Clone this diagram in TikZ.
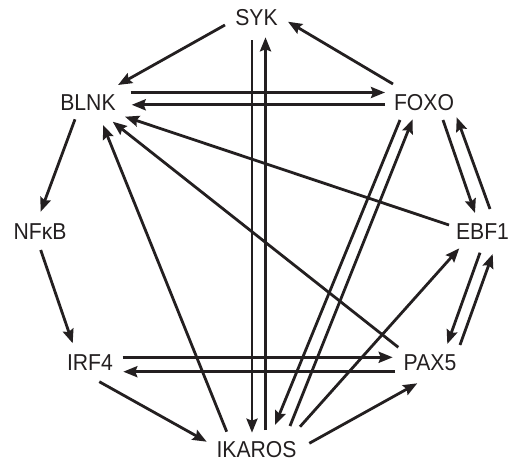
\documentclass[tikz,border=0pt]{standalone}
\usepackage{fontspec}
\setmainfont{Liberation Sans}[FakeStretch=0.92]
\usetikzlibrary{arrows.meta}
\definecolor{ink}{HTML}{231F20}
\begin{document}
\begin{tikzpicture}[x=1pt,y=-1pt,
  lbl/.style={inner sep=0pt,text=ink,font=\fontsize{23}{23}\selectfont},
  conn/.style={draw=ink,line width=2.8pt,-{Stealth[length=14pt,width=11pt,inset=2pt]}}]
\useasboundingbox (0,0) rectangle (509,463);
\node[lbl] (SYK) at (256.5,17.5) {SYK};
\node[lbl] (BLNK) at (88,103) {BLNK};
\node[lbl] (FOXO) at (424,103) {FOXO};
\node[lbl] (NFKB) at (40,232) {NFκB};
\node[lbl] (EBF1) at (482.5,231.5) {EBF1};
\node[lbl] (IRF4) at (90,363) {IRF4};
\node[lbl] (PAX5) at (430,363) {PAX5};
\node[lbl] (IKAROS) at (256.5,450) {IKAROS};
% connectors
\draw[conn] ([shift={(-31.5,7.5)}]SYK.center) -- ([shift={(30,-18)}]BLNK.center);
\draw[conn] ([shift={(-31,-19)}]FOXO.center) -- ([shift={(31.5,4.2)}]SYK.center);
\draw[conn] ([shift={(42.7,-10.5)}]BLNK.center) -- ([shift={(-39,-10.5)}]FOXO.center);
\draw[conn] ([shift={(-39,1.8)}]FOXO.center) -- ([shift={(43.7,1.8)}]BLNK.center);
\draw[conn] ([shift={(-33.5,-6.5)}]EBF1.center) -- ([shift={(37,13.7)}]BLNK.center);
\draw[conn] ([shift={(-31.7,-15.7)}]PAX5.center) -- ([shift={(24.7,18.7)}]BLNK.center);
\draw[conn] ([shift={(-29.8,-18.3)}]IKAROS.center) -- ([shift={(15,22)}]BLNK.center);
\draw[conn] ([shift={(-13,16.3)}]BLNK.center) -- ([shift={(0.7,-20.3)}]NFKB.center);
\draw[conn] ([shift={(0.7,18)}]NFKB.center) -- ([shift={(-17.3,-19.7)}]IRF4.center);
\draw[conn] ([shift={(32.7,-5.7)}]IRF4.center) -- ([shift={(-37.3,-5.7)}]PAX5.center);
\draw[conn] ([shift={(-35,8.7)}]PAX5.center) -- ([shift={(33.3,8.7)}]IRF4.center);
\draw[conn] ([shift={(9.3,18.7)}]IRF4.center) -- ([shift={(-49.8,-8.3)}]IKAROS.center);
\draw[conn] ([shift={(-4.5,22.5)}]SYK.center) -- ([shift={(-4.5,-17.3)}]IKAROS.center);
\draw[conn] ([shift={(9,-20)}]IKAROS.center) -- ([shift={(9,19.8)}]SYK.center);
\draw[conn] ([shift={(-24,17)}]FOXO.center) -- ([shift={(18.5,-25)}]IKAROS.center);
\draw[conn] ([shift={(33.5,-24)}]IKAROS.center) -- ([shift={(-11.3,16.3)}]FOXO.center);
\draw[conn] ([shift={(19,17)}]FOXO.center) -- ([shift={(-7.5,-18.5)}]EBF1.center);
\draw[conn] ([shift={(7.5,-22.5)}]EBF1.center) -- ([shift={(32.7,14.3)}]FOXO.center);
\draw[conn] ([shift={(-2.5,21.2)}]EBF1.center) -- ([shift={(17.3,-19)}]PAX5.center);
\draw[conn] ([shift={(30,-18)}]PAX5.center) -- ([shift={(10.2,22.5)}]EBF1.center);
\draw[conn] ([shift={(43.5,-23.3)}]IKAROS.center) -- ([shift={(-23.2,16.8)}]EBF1.center);
\draw[conn] ([shift={(52.8,-6.7)}]IKAROS.center) -- ([shift={(-12.7,20.3)}]PAX5.center);
\end{tikzpicture}
\end{document}
